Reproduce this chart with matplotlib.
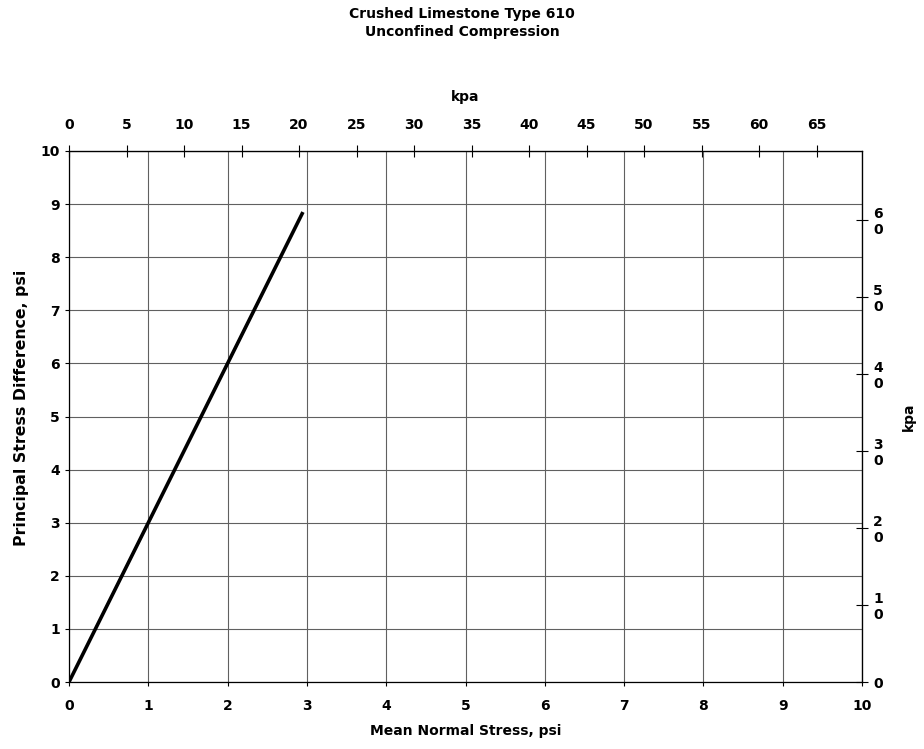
import matplotlib
matplotlib.use("Agg")
import matplotlib.pyplot as plt
import numpy as np

plt.rcParams['font.family'] = ['DejaVu Sans']
plt.rcParams['font.weight'] = 'bold'

# data (psi)
mean_normal = [0.0, 2.95]
principal_diff = [0.0, 8.85]

PSI_TO_KPA = 6.895
top_kpa_ticks = [0, 5, 10, 15, 20, 25, 30, 35, 40, 45, 50, 55, 60, 65]
right_kpa_ticks = [0, 10, 20, 30, 40, 50, 60]
right_kpa_labels = ["0", "1\n0", "2\n0", "3\n0", "4\n0", "5\n0", "6\n0"]

fig = plt.figure(figsize=(9.24, 7.49), dpi=100)
ax = fig.add_axes([69/924, 1-682/749, (862-69)/924, (682-151)/749])

ax.plot(mean_normal, principal_diff, color='black', lw=2.6, solid_capstyle='butt')
ax.set_xlim(0, 10)
ax.set_ylim(0, 10)
ax.set_xticks(range(0, 11))
ax.set_yticks(range(0, 11))
ax.grid(True, color='#606060', lw=0.8)
ax.tick_params(axis='both', labelsize=10, length=3, width=0.8, color='black')
ax.tick_params(axis='x', pad=9)
for s in ax.spines.values():
    s.set_color('black')
    s.set_linewidth(0.9)

ax.set_xlabel("Mean Normal Stress, psi", fontsize=10, fontweight='bold', labelpad=8)
ax.set_ylabel("Principal Stress Difference, psi", fontsize=11.3, fontweight='bold')
ax.yaxis.set_label_coords((29-69)/793, (682-408)/531)

top = ax.secondary_xaxis('top', functions=(lambda x: x*PSI_TO_KPA, lambda k: k/PSI_TO_KPA))
top.set_xticks(top_kpa_ticks)
top.tick_params(labelsize=10, direction='inout', length=8, width=0.8, pad=10)
top.set_xlabel("kpa", fontsize=10, fontweight='bold', labelpad=12)

right = ax.secondary_yaxis('right', functions=(lambda x: x*PSI_TO_KPA, lambda k: k/PSI_TO_KPA))
right.set_yticks(right_kpa_ticks)
right.set_yticklabels(right_kpa_labels, linespacing=1.1)
right.tick_params(labelsize=10, direction='inout', length=8, width=0.8, pad=4)
right.set_ylabel("kpa", fontsize=10, fontweight='bold', labelpad=14)

fig.text(0.5, 1-14/749, "Crushed Limestone Type 610", ha='center', va='center', fontsize=10, fontweight='bold')
fig.text(0.5, 1-32/749, "Unconfined Compression", ha='center', va='center', fontsize=10, fontweight='bold')

fig.savefig("out.png", dpi=100)
